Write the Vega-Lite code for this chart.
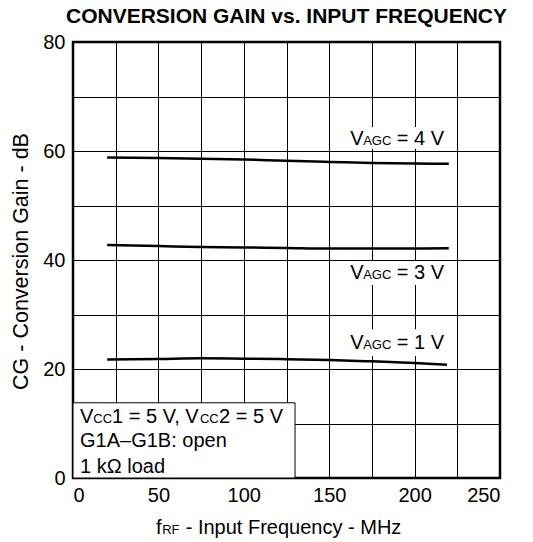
{
  "$schema": "https://vega.github.io/schema/vega-lite/v6.json",
  "autosize": {"type": "none"},
  "padding": {"left": 73, "top": 42, "right": 33, "bottom": 64},
  "width": 427,
  "height": 436,
  "background": "white",
  "title": {
    "text": "CONVERSION GAIN vs. INPUT FREQUENCY",
    "font": "Liberation Sans",
    "fontSize": 21,
    "fontWeight": "bold",
    "color": "black",
    "anchor": "middle",
    "baseline": "alphabetic",
    "offset": -12
  },
  "config": {
    "view": {"stroke": "black", "strokeWidth": 2.5},
    "axis": {
      "labelFont": "Liberation Sans",
      "labelFontSize": 20,
      "labelColor": "black",
      "titleFont": "Liberation Sans",
      "titleFontSize": 21.5,
      "titleFontWeight": "normal",
      "titleColor": "black",
      "grid": true,
      "gridColor": "black",
      "gridOpacity": 1,
      "gridWidth": 1,
      "ticks": false,
      "domain": false,
      "labelOverlap": false
    }
  },
  "datasets": {
    "curves": [
      {"x": 20, "y": 58.8, "vagc": "4 V"},
      {"x": 50, "y": 58.7, "vagc": "4 V"},
      {"x": 75, "y": 58.6, "vagc": "4 V"},
      {"x": 100, "y": 58.45, "vagc": "4 V"},
      {"x": 125, "y": 58.2, "vagc": "4 V"},
      {"x": 150, "y": 58.0, "vagc": "4 V"},
      {"x": 175, "y": 57.8, "vagc": "4 V"},
      {"x": 200, "y": 57.7, "vagc": "4 V"},
      {"x": 220, "y": 57.65, "vagc": "4 V"},
      {"x": 20, "y": 42.75, "vagc": "3 V"},
      {"x": 50, "y": 42.55, "vagc": "3 V"},
      {"x": 75, "y": 42.4, "vagc": "3 V"},
      {"x": 100, "y": 42.3, "vagc": "3 V"},
      {"x": 125, "y": 42.2, "vagc": "3 V"},
      {"x": 150, "y": 42.1, "vagc": "3 V"},
      {"x": 175, "y": 42.1, "vagc": "3 V"},
      {"x": 200, "y": 42.1, "vagc": "3 V"},
      {"x": 220, "y": 42.15, "vagc": "3 V"},
      {"x": 20, "y": 21.75, "vagc": "1 V"},
      {"x": 50, "y": 21.85, "vagc": "1 V"},
      {"x": 75, "y": 21.95, "vagc": "1 V"},
      {"x": 100, "y": 21.9, "vagc": "1 V"},
      {"x": 125, "y": 21.8, "vagc": "1 V"},
      {"x": 150, "y": 21.65, "vagc": "1 V"},
      {"x": 175, "y": 21.4, "vagc": "1 V"},
      {"x": 200, "y": 21.1, "vagc": "1 V"},
      {"x": 219, "y": 20.8, "vagc": "1 V"}
    ],
    "boxes": [
      {"kind": "conditions", "x": 0, "x2": 130, "y": 0, "y2": 13.8},
      {"kind": "label", "x": 161, "x2": 221, "y": 60.4, "y2": 64.4},
      {"kind": "label", "x": 161, "x2": 221, "y": 35.4, "y2": 39.8},
      {"kind": "label", "x": 161, "x2": 221, "y": 22.4, "y2": 27.3}
    ],
    "texts": [
      {"x": 162.3, "y": 61.1, "t": "V", "role": "main"},
      {"x": 169.9, "y": 61.1, "t": "AGC", "role": "sub"},
      {"x": 189.6, "y": 61.1, "t": "= 4 V", "role": "main"},
      {"x": 162.3, "y": 36.5, "t": "V", "role": "main"},
      {"x": 169.9, "y": 36.5, "t": "AGC", "role": "sub"},
      {"x": 189.6, "y": 36.5, "t": "= 3 V", "role": "main"},
      {"x": 162.3, "y": 23.6, "t": "V", "role": "main"},
      {"x": 169.9, "y": 23.6, "t": "AGC", "role": "sub"},
      {"x": 189.6, "y": 23.6, "t": "= 1 V", "role": "main"},
      {"x": 4.1, "y": 10.1, "t": "V", "role": "main"},
      {"x": 11.9, "y": 10.1, "t": "CC", "role": "sub"},
      {"x": 22.9, "y": 10.1, "t": "1 = 5 V, V", "role": "main"},
      {"x": 74.3, "y": 10.1, "t": "CC", "role": "sub"},
      {"x": 85.5, "y": 10.1, "t": "2 = 5 V", "role": "main"},
      {"x": 4.1, "y": 5.7, "t": "G1A–G1B: open", "role": "main"},
      {"x": 4.1, "y": 0.9, "t": "1 kΩ load", "role": "main"},
      {"x": 48.6, "y": -10.3, "t": "f", "role": "main"},
      {"x": 52.2, "y": -10.3, "t": "RF", "role": "sub"},
      {"x": 66.0, "y": -10.3, "t": "- Input Frequency - MHz", "role": "main"}
    ]
  },
  "encoding": {
    "x": {
      "field": "x", "type": "quantitative",
      "scale": {"domain": [0, 250], "nice": false, "zero": false},
      "axis": {
        "title": null,
        "values": [0, 25, 50, 75, 100, 125, 150, 175, 200, 225, 250],
        "labelExpr": "datum.value % 50 === 0 ? datum.label : ''",
        "labelPadding": 7,
        "labelBaseline": "top"
      }
    },
    "y": {
      "field": "y", "type": "quantitative",
      "scale": {"domain": [0, 80], "nice": false, "zero": false},
      "axis": {
        "title": "CG - Conversion Gain - dB",
        "values": [0, 10, 20, 30, 40, 50, 60, 70, 80],
        "labelExpr": "datum.value % 20 === 0 ? datum.label : ''",
        "labelPadding": 8,
        "labelBaseline": "middle",
        "titleAngle": 270,
        "titleX": -46,
        "titleY": 219,
        "titleAlign": "center",
        "titleBaseline": "alphabetic"
      }
    }
  },
  "layer": [
    {
      "data": {"name": "curves"},
      "mark": {"type": "line", "color": "black", "strokeWidth": 2.5, "interpolate": "monotone"},
      "encoding": {
        "detail": {"field": "vagc", "type": "nominal"}
      }
    },
    {
      "data": {"name": "boxes"},
      "mark": {"type": "rect", "fill": "white"},
      "encoding": {
        "x2": {"field": "x2"},
        "y2": {"field": "y2"},
        "stroke": {
          "condition": {"test": "datum.kind === 'conditions'", "value": "black"},
          "value": null
        },
        "strokeWidth": {"value": 1}
      }
    },
    {
      "data": {"name": "texts"},
      "transform": [{"filter": "datum.role === 'main'"}],
      "mark": {"type": "text", "align": "left", "baseline": "alphabetic", "font": "Liberation Sans", "fontSize": 20, "color": "black"},
      "encoding": {
        "text": {"field": "t"}
      }
    },
    {
      "data": {"name": "texts"},
      "transform": [{"filter": "datum.role === 'sub'"}],
      "mark": {"type": "text", "align": "left", "baseline": "alphabetic", "font": "Liberation Sans", "fontSize": 13, "color": "black"},
      "encoding": {
        "text": {"field": "t"}
      }
    }
  ]
}
